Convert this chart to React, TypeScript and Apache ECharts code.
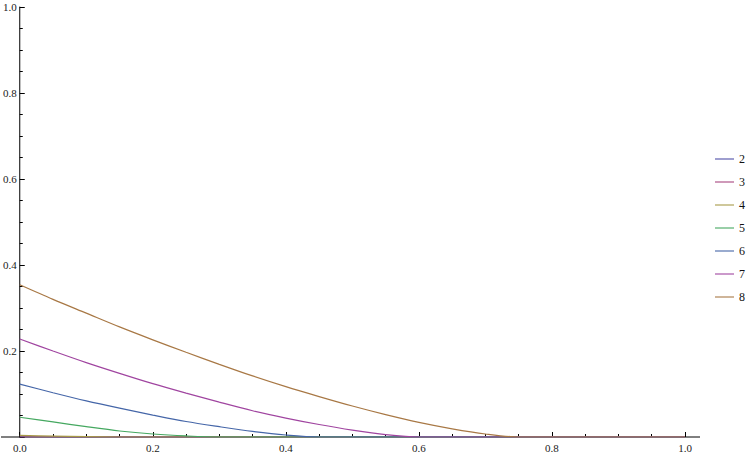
import React, { useEffect, useRef } from "react";
import * as echarts from "echarts";

const xs = [0, 0.05, 0.1, 0.15, 0.2, 0.25, 0.3, 0.35, 0.4, 0.45, 0.5, 0.55, 0.6, 0.65, 0.7, 0.75, 0.8, 0.85, 0.9, 0.95, 1.0];
const seriesNames = ["2", "3", "4", "5", "6", "7", "8"];
const s2 = [0, 0, 0, 0, 0, 0, 0, 0, 0, 0, 0, 0, 0, 0, 0, 0, 0, 0, 0, 0, 0];
const s3 = [0, 0, 0, 0, 0, 0, 0, 0, 0, 0, 0, 0, 0, 0, 0, 0, 0, 0, 0, 0, 0];
const s4 = [0.004, 0.002, 0.0007, 0, 0, 0, 0, 0, 0, 0, 0, 0, 0, 0, 0, 0, 0, 0, 0, 0, 0];
const s5 = [0.046, 0.035, 0.024, 0.014, 0.007, 0.0025, 0, 0, 0, 0, 0, 0, 0, 0, 0, 0, 0, 0, 0, 0, 0];
const s6 = [0.123, 0.103, 0.084, 0.067, 0.051, 0.036, 0.024, 0.013, 0.0046, 0, 0, 0, 0, 0, 0, 0, 0, 0, 0, 0, 0];
const s7 = [0.228, 0.2, 0.173, 0.148, 0.124, 0.102, 0.081, 0.061, 0.044, 0.029, 0.016, 0.0055, 0, 0, 0, 0, 0, 0, 0, 0, 0];
const s8 = [0.354, 0.32, 0.288, 0.256, 0.226, 0.197, 0.169, 0.142, 0.117, 0.094, 0.072, 0.052, 0.034, 0.019, 0.007, 0, 0, 0, 0, 0, 0];
const seriesValues = [s2, s3, s4, s5, s6, s7, s8];
const colors = ["#4F4FA8", "#A8457F", "#A89A48", "#45A860", "#4566A8", "#A045A0", "#A87845"];

const GRID_LEFT = 16;
const GRID_RIGHT = 67;
const GRID_TOP = 7;
const GRID_BOTTOM = 18;
const FONT = "Times New Roman";

export default function App() {
  const ref = useRef<HTMLDivElement>(null);
  useEffect(() => {
    if (!ref.current) return;
    const chart = echarts.init(ref.current, undefined, { renderer: "svg" });
    const axisY = 455 - GRID_BOTTOM;
    chart.setOption({
      animation: false,
      backgroundColor: "#ffffff",
      textStyle: { fontFamily: FONT },
      grid: { left: GRID_LEFT, right: GRID_RIGHT, top: GRID_TOP, bottom: GRID_BOTTOM, containLabel: false },
      xAxis: {
        type: "value",
        min: 0,
        max: 1,
        interval: 0.2,
        axisLine: { show: false },
        axisTick: { show: true, inside: true, length: 5, lineStyle: { color: "#000", width: 1 } },
        minorTick: { show: true, splitNumber: 4, length: 3, lineStyle: { color: "#000", width: 1 } },
        splitLine: { show: false },
        axisLabel: {
          color: "#222",
          fontFamily: FONT,
          fontSize: 11,
          margin: 5,
          formatter: (v: number) => v.toFixed(1),
        },
      },
      yAxis: {
        type: "value",
        min: 0,
        max: 1,
        interval: 0.2,
        axisLine: { show: true, lineStyle: { color: "#000", width: 1 } },
        axisTick: { show: true, inside: true, length: 5, lineStyle: { color: "#000", width: 1 } },
        minorTick: { show: true, splitNumber: 4, length: 3, lineStyle: { color: "#000", width: 1 } },
        splitLine: { show: false },
        axisLabel: {
          color: "#222",
          fontFamily: FONT,
          fontSize: 11,
          margin: 3,
          formatter: (v: number) => (v === 0 ? "" : v.toFixed(1)),
        },
      },
      legend: {
        orient: "vertical",
        left: 715,
        top: 153,
        padding: 0,
        itemWidth: 19,
        itemHeight: 2,
        itemGap: 11,
        icon: "rect",
        itemStyle: { opacity: 0.55 },
        textStyle: { fontFamily: FONT, fontSize: 12, color: "#111" },
        data: seriesNames,
      },
      graphic: [
        {
          type: "line",
          z: 0,
          shape: { x1: 1, y1: axisY, x2: 700, y2: axisY },
          style: { stroke: "#000", lineWidth: 1 },
        },
      ],
      series: seriesNames.map((name, i) => ({
        name,
        type: "line",
        data: xs.map((x, j) => [x, seriesValues[i][j]]),
        smooth: 0.3,
        showSymbol: false,
        symbol: "none",
        lineStyle: { color: colors[i], width: 1.2 },
        itemStyle: { color: colors[i] },
        z: 3,
      })),
    });
    return () => chart.dispose();
  }, []);
  return (
    <div
      ref={ref}
      style={{ position: "absolute", left: 0, top: 0, width: 752, height: 455, background: "#fff" }}
    />
  );
}
